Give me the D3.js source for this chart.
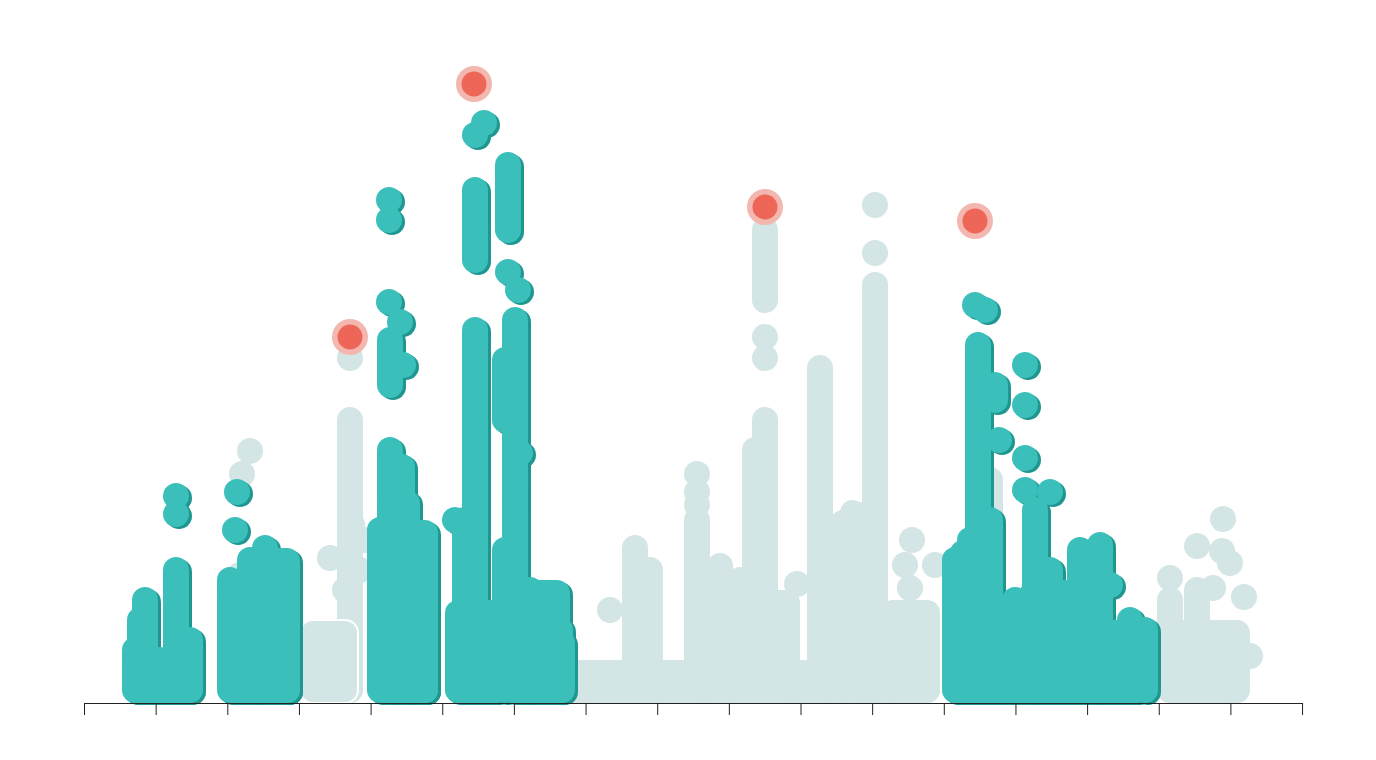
<!DOCTYPE html>
<html><head><meta charset="utf-8">
<script src="https://cdn.jsdelivr.net/npm/d3@7"></script>
<style>body{margin:0;background:#fff}</style>
</head><body><svg id="c" width="1376" height="760"></svg>
<script>
// position along genome (0..1218), score (0..600)
// blocks: [start, end, top] (outer edges)
var greyBlocks = [[436,856,30],[736,801,170],[746,791,180],[756,781,190],[796,856,90],[616,716,100],[1076,1166,70]];
var outlinedBlocks = [[216,274,70]];
// columns: [pos, top, bottom]
var greyCols = [[266,270,0],[551,142,0],[566,120,0],[613,170,0],[636,124,0],[656,110,0],[671,240,0],
  [681,270,0],[681,460,390],[736,322,0],[791,405,0],[906,210,0],[756,160,0],[776,175,0],[1086,90,0],[1113,100,0]];
// dots: [pos, score]
var greyDots = [[166,239],[158,216],[156,115],[171,130],[266,332],[268,165],[246,132],[281,150],[261,100],
  [276,120],[526,80],[613,216],[613,198],[613,185],[681,332],[681,353],[713,106],[791,485],[791,437],
  [828,150],[821,125],[851,125],[826,102],[1086,112],[1113,144],[1139,171],[1138,139],[1146,127],
  [1129,102],[1160,93],[1166,34]];

var tealBlocks = [[40,116,40],[136,216,110],[161,216,142],[286,354,170],[296,336,200],[361,426,90],
  [416,486,110],[436,491,60],[866,916,150],[861,1066,70],[936,1026,110]];
var tealCols = [[61,90,0],[92,120,0],[51,40,0],[106,50,0],[306,240,0],[318,223,0],[306,350,305],
  [391,360,0],[381,170,0],[391,500,430],[424,525,460],[431,370,0],[421,330,270],[421,140,0],
  [894,345,0],[911,305,290],[951,180,0],[996,140,0],[1016,145,0],[146,110,0],[166,130,0],[181,142,0],
  [296,160,0],[331,150,0],[341,120,0],[446,100,0],[476,60,0],[871,130,0],[886,150,0],[906,170,0],
  [931,90,0],[966,120,0],[1006,130,0],[1046,70,0],[1061,60,0],[56,70,0],[76,30,0],[101,20,0]];
var tealDots = [[92,194],[92,176],[153,198],[151,160],[305,490],[305,470],[305,388],[316,368],[319,325],
  [391,555],[400,567],[424,418],[434,400],[436,237],[431,190],[371,170],[891,385],[901,380],[915,250],
  [941,325],[941,285],[941,232],[941,200],[966,198],[1026,105]];

var hits = [[266,353],[390,606],[681,483],[891,469]];
var ticks = d3.range(18).map(function(i){ return i*71.65; });

var svg = d3.select("#c");
var x = d3.scaleLinear().domain([0,1218]).range([84,1302]);
var y = d3.scaleLinear().domain([0,600]).range([690,90]);
var r = 13;

function draw(g, blocks, cols, dots, fill, stroke) {
  g.selectAll("line").data(cols).enter().append("line")
    .attr("x1", d => x(d[0])).attr("x2", d => x(d[0]))
    .attr("y1", d => y(d[1])).attr("y2", d => y(d[2]))
    .attr("stroke", fill).attr("stroke-width", 2*r).attr("stroke-linecap", "round");
  g.selectAll("rect").data(blocks).enter().append("rect")
    .attr("x", d => x(d[0])).attr("width", d => x(d[1]) - x(d[0]))
    .attr("y", d => y(d[2])).attr("height", d => y(0) + r - y(d[2]))
    .attr("rx", r).attr("fill", fill).attr("stroke", stroke || "none").attr("stroke-width", 2);
  g.selectAll("circle").data(dots).enter().append("circle")
    .attr("cx", d => x(d[0])).attr("cy", d => y(d[1])).attr("r", r).attr("fill", fill);
}

draw(svg.append("g"), greyBlocks, greyCols, greyDots, "#d3e5e4");
draw(svg.append("g"), outlinedBlocks, [], [], "#d3e5e4", "#fff");
draw(svg.append("g").attr("transform", "translate(3,2)"), tealBlocks, tealCols, tealDots, "#1f968f");
draw(svg.append("g"), tealBlocks, tealCols, tealDots, "#3bbfbb");

var h = svg.append("g");
h.selectAll(".halo").data(hits).enter().append("circle")
  .attr("cx", d => x(d[0])).attr("cy", d => y(d[1])).attr("r", 18).attr("fill", "#f4b7af");
h.selectAll(".dot").data(hits).enter().append("circle")
  .attr("cx", d => x(d[0])).attr("cy", d => y(d[1])).attr("r", 12.5).attr("fill", "#ee6657");

svg.append("g").attr("transform", "translate(0,703)")
  .call(d3.axisBottom(x).tickValues(ticks).tickFormat("").tickSize(12).tickSizeOuter(0))
  .call(g => g.selectAll("path,line").attr("stroke", "#222"));
</script></body></html>
